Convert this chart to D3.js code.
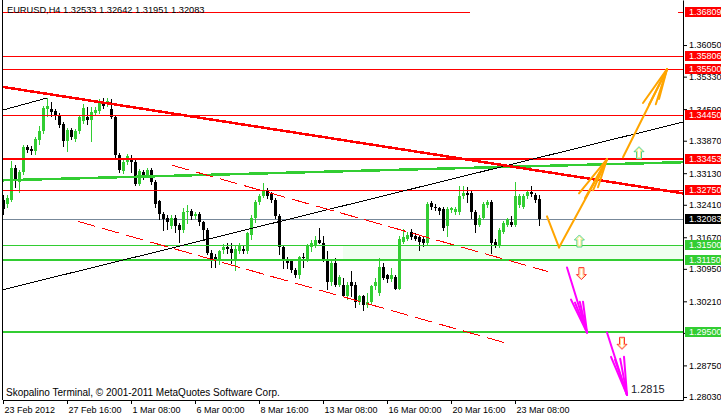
<!DOCTYPE html>
<html><head><meta charset="utf-8">
<script src="https://cdn.jsdelivr.net/npm/d3@7"></script>
<style>
html,body{margin:0;padding:0;background:#fff;}
svg{display:block;font-family:"Liberation Sans",Arial,sans-serif;}
</style></head><body>
<svg id="chart" width="721" height="417"></svg>
<script>
// ---------- DATA ----------
const symbolTitle = "EURUSD,H4  1.32533 1.32642 1.31951 1.32083";
const copyright = "Skopalino Terminal, \u00A9 2001-2011 MetaQuotes Software Corp.";
const opens = [1.3253,1.3242,1.3253,1.3324,1.3292,1.3315,1.3372,1.3368,1.3363,1.3388,
1.3409,1.3459,1.3459,1.3455,1.3445,1.3425,1.3386,1.3411,1.3391,1.3409,
1.3432,1.3441,1.3434,1.3450,1.3455,1.3475,1.3471,1.3459,1.3441,1.3354,
1.3317,1.3338,1.3347,1.3338,1.3288,1.3315,1.3308,1.3320,1.3292,1.3249,
1.3219,1.3212,1.3192,1.3212,1.3194,1.3183,1.3224,1.3226,1.3215,1.3219,
1.3201,1.3183,1.3132,1.3123,1.3112,1.3137,1.3144,1.3141,1.3116,1.3135,
1.3141,1.3135,1.3173,1.3212,1.3247,1.3260,1.3272,1.3265,1.3251,1.3215,
1.3144,1.3116,1.3112,1.3093,1.3080,1.3121,1.3116,1.3144,1.3146,1.3160,
1.3155,1.3116,1.3064,1.3109,1.3059,1.3059,1.3032,1.3064,1.3059,1.3020,
1.3032,1.3013,1.3020,1.3055,1.3041,1.3100,1.3080,1.3071,1.3077,1.3050,
1.3157,1.3164,1.3178,1.3169,1.3167,1.3164,1.3155,1.3244,1.3237,1.3233,
1.3231,1.3192,1.3228,1.3224,1.3224,1.3260,1.3267,1.3267,1.3224,1.3196,
1.3212,1.3240,1.3247,1.3157,1.3148,1.3180,1.3196,1.3201,1.3196,1.3240,
1.3237,1.3260,1.3269,1.3263,1.32533];
const highs = [1.3263,1.3263,1.3340,1.3331,1.3320,1.3377,1.3377,1.3375,1.3395,1.3420,
1.3466,1.3484,1.3475,1.3459,1.3450,1.3429,1.3416,1.3416,1.3413,1.3445,
1.3471,1.3464,1.3464,1.3464,1.3482,1.3484,1.3484,1.3482,1.3445,1.3359,
1.3345,1.3356,1.3354,1.3345,1.3322,1.3320,1.3324,1.3324,1.3297,1.3253,
1.3224,1.3217,1.3217,1.3217,1.3199,1.3233,1.3240,1.3231,1.3224,1.3224,
1.3205,1.3187,1.3137,1.3128,1.3139,1.3151,1.3155,1.3155,1.3146,1.3155,
1.3146,1.3180,1.3217,1.3253,1.3265,1.3290,1.3279,1.3269,1.3256,1.3219,
1.3148,1.3121,1.3116,1.3098,1.3125,1.3132,1.3151,1.3160,1.3169,1.3187,
1.3169,1.3135,1.3114,1.3119,1.3082,1.3075,1.3064,1.3089,1.3064,1.3036,
1.3036,1.3041,1.3059,1.3075,1.3119,1.3109,1.3084,1.3098,1.3082,1.3169,
1.3185,1.3178,1.3185,1.3176,1.3171,1.3169,1.3247,1.3249,1.3242,1.3237,
1.3235,1.3235,1.3237,1.3235,1.3283,1.3283,1.3281,1.3272,1.3228,1.3217,
1.3247,1.3253,1.3253,1.3162,1.3187,1.3203,1.3212,1.3215,1.3292,1.3265,
1.3265,1.3274,1.3283,1.3267,1.32642];
const lows = [1.3221,1.3237,1.3249,1.3281,1.3269,1.3311,1.3361,1.3356,1.3356,1.3379,
1.3404,1.3443,1.3443,1.3436,1.3418,1.3375,1.3363,1.3391,1.3386,1.3404,
1.3427,1.3425,1.3386,1.3445,1.3450,1.3461,1.3466,1.3439,1.3349,1.3315,
1.3313,1.3333,1.3315,1.3285,1.3285,1.3299,1.3304,1.3288,1.3237,1.3208,
1.3183,1.3185,1.3187,1.3180,1.3157,1.3178,1.3199,1.3208,1.3210,1.3196,
1.3162,1.3128,1.3100,1.3100,1.3107,1.3132,1.3132,1.3109,1.3093,1.3132,
1.3130,1.3130,1.3162,1.3201,1.3242,1.3258,1.3256,1.3247,1.3210,1.3128,
1.3096,1.3096,1.3087,1.3077,1.3075,1.3100,1.3112,1.3135,1.3144,1.3153,
1.3112,1.3048,1.3059,1.3055,1.3055,1.3032,1.3027,1.3032,1.3009,1.3016,
1.3002,1.3009,1.3016,1.3050,1.3036,1.3071,1.3066,1.3068,1.3048,1.3048,
1.3153,1.3160,1.3162,1.3160,1.3139,1.3148,1.3151,1.3231,1.3228,1.3221,
1.3183,1.3169,1.3224,1.3219,1.3219,1.3256,1.3247,1.3210,1.3178,1.3192,
1.3208,1.3235,1.3132,1.3144,1.3144,1.3176,1.3192,1.3192,1.3192,1.3235,
1.3233,1.3256,1.3260,1.3247,1.31951];
const closes = [1.3231,1.3256,1.3324,1.3295,1.3315,1.3372,1.3365,1.3363,1.3391,1.3409,
1.3461,1.3466,1.3452,1.3443,1.3423,1.3386,1.3411,1.3395,1.3409,1.3441,
1.3461,1.3434,1.3452,1.3457,1.3475,1.3466,1.3477,1.3441,1.3354,1.3320,
1.3338,1.3352,1.3338,1.3288,1.3317,1.3306,1.3320,1.3292,1.3242,1.3219,
1.3208,1.3201,1.3212,1.3192,1.3183,1.3224,1.3226,1.3215,1.3219,1.3201,
1.3183,1.3132,1.3112,1.3112,1.3135,1.3144,1.3141,1.3130,1.3141,1.3146,
1.3135,1.3176,1.3212,1.3247,1.3260,1.3274,1.3260,1.3251,1.3215,1.3144,
1.3116,1.3109,1.3093,1.3080,1.3121,1.3119,1.3146,1.3155,1.3160,1.3155,
1.3116,1.3064,1.3109,1.3059,1.3077,1.3034,1.3059,1.3055,1.3020,1.3032,
1.3013,1.3020,1.3055,1.3066,1.3100,1.3075,1.3071,1.3080,1.3050,1.3164,
1.3167,1.3173,1.3167,1.3164,1.3157,1.3153,1.3242,1.3235,1.3233,1.3226,
1.3187,1.3231,1.3233,1.3231,1.3260,1.3267,1.3263,1.3224,1.3196,1.3212,
1.3242,1.3247,1.3155,1.3148,1.3183,1.3199,1.3208,1.3196,1.3260,1.3260,
1.3260,1.3269,1.3265,1.3251,1.32083];

const timeLabels = ["23 Feb 2012","27 Feb 16:00","1 Mar 08:00","6 Mar 00:00","8 Mar 16:00","13 Mar 08:00","16 Mar 00:00","20 Mar 16:00","23 Mar 08:00"];
const timeLabelBars = [0,16,32,48,64,80,96,112,128];
const priceTicks = [1.28030,1.28750,1.29490,1.30210,1.30950,1.31670,1.32410,1.33130,1.33870,1.34590,1.35330,1.36050];

const redLevels = [1.36809,1.35806,1.35500,1.34450,1.33453,1.32750];
const greenLevels = [1.31500,1.31150,1.29500];
const lastPrice = 1.32083;
const zoneStartBar = 85;

// trend lines: [bar1, price1, bar2, price2]
const redTrend = [0,1.35095,170,1.32671];
const blackTrend = [0,1.30476,170,1.34294];
const blackShort = [0,1.3457,10.9,1.3484];
const greenTrend = [0,1.32968,170,1.33380];
const channelUpper = [42.25,1.33311,136.25,1.30888];
const channelLower = [18.75,1.32031,125.5,1.29265];

// forecast path & arrows: [bar, price]
const orangeLeg = [[136,1.32145],[139,1.31437]];
const orangeArrow1 = {shaft:[[139,1.31437],[151,1.33449]], barbs:[[144,1.32671],[145.5,1.32560],[147.5,1.32740],[148.75,1.32808]]};
const orangeArrow2 = {shaft:[[155,1.33494],[166,1.35500]], barbs:[[160,1.34729],[161.5,1.34690],[163.2,1.34700],[164,1.34820]]};
const magentaArrow1 = {shaft:[[141,1.30979],[146,1.29500]], barbs:[[142,1.30248],[143,1.30180],[144.2,1.30200],[145,1.30202]]};
const magentaArrow2 = {shaft:[[151,1.29500],[156,1.28076]], barbs:[[152,1.28945],[153,1.28880],[154.3,1.28900],[155.25,1.28945]]};
const targetLabel = "1.2815";
const upSignals = [[144.1,1.31585],[159,1.33597]];
const downSignals = [[144.6,1.30842],[154.75,1.29253]];

// ---------- DRAW ----------
const svg = d3.select("#chart");
svg.append("rect").attr("width",721).attr("height",417).attr("fill","#fff");
const x = d3.scaleLinear().domain([0,170]).range([3,683]);
const y = d3.scaleLinear().domain([1.279614,1.370764]).range([400,0]);
const px = v => Math.round(x(v));
const py = v => Math.round(y(v));
const LIME = "#32CD32", RED = "#FF0000", ORANGE = "#FFA500", MAG = "#FF00FF";

// zone fill
svg.append("rect")
  .attr("x", px(zoneStartBar)).attr("y", py(greenLevels[0]))
  .attr("width", px(170)-px(zoneStartBar)).attr("height", py(greenLevels[1])-py(greenLevels[0]))
  .attr("fill","#F0FFF0");

// last price line
svg.append("line").attr("x1",3).attr("x2",683)
  .attr("y1",py(lastPrice)+0.5).attr("y2",py(lastPrice)+0.5)
  .attr("stroke","#778899").attr("stroke-width",1);

// candles
const bars = d3.range(opens.length).map(i=>({i,o:opens[i],h:highs[i],l:lows[i],c:closes[i]}));
const cg = svg.append("g").attr("shape-rendering","crispEdges");
const col = d => d.c >= d.o ? LIME : "#000";
cg.selectAll("line").data(bars).join("line")
  .attr("x1",d=>px(d.i)+0.5).attr("x2",d=>px(d.i)+0.5)
  .attr("y1",d=>py(d.h)).attr("y2",d=>py(d.l)+1)
  .attr("stroke",col);
cg.selectAll("rect").data(bars).join("rect")
  .attr("x",d=>px(d.i)-1).attr("width",3)
  .attr("y",d=>py(Math.max(d.o,d.c)))
  .attr("height",d=>Math.max(1,py(Math.min(d.o,d.c))-py(Math.max(d.o,d.c))))
  .attr("fill",col);

// horizontal levels
const lg = svg.append("g").attr("shape-rendering","crispEdges");
redLevels.forEach((v,k)=>{
  const w = k===4 ? 2 : 1;
  const yy = py(v) + (w===1 ? 0.5 : 0);
  lg.append("line").attr("x1",3).attr("x2", k===0 ? x(116.75) : 683)
    .attr("y1",yy).attr("y2",yy).attr("stroke",RED).attr("stroke-width",w);
});
greenLevels.forEach((v,k)=>{
  const w = k===0 ? 1 : 2;
  const yy = py(v) + (w===1 ? 0.5 : 0);
  lg.append("line").attr("x1",3).attr("x2",683)
    .attr("y1",yy).attr("y2",yy).attr("stroke",LIME).attr("stroke-width",w);
});
lg.append("line").attr("x1",678).attr("x2",683).attr("y1",py(redLevels[0])+0.5).attr("y2",py(redLevels[0])+0.5).attr("stroke",RED);

// trend lines
const tg = svg.append("g").attr("shape-rendering","crispEdges");
function seg(a, stroke, w, dash){
  const l = tg.append("line").attr("x1",x(a[0])).attr("y1",y(a[1])).attr("x2",x(a[2])).attr("y2",y(a[3]))
    .attr("stroke",stroke).attr("stroke-width",w);
  if(dash) l.attr("stroke-dasharray",dash);
}
seg(greenTrend, LIME, 2.5);
seg(blackTrend, "#000", 1);
seg(blackShort, "#000", 1);
seg(redTrend, RED, 2.5);
seg(channelUpper, RED, 1, "18,7");
seg(channelLower, RED, 1, "18,7");

// forecast arrows
const ag = svg.append("g").attr("stroke-linecap","round");
function line2(p, q, c){ ag.append("line").attr("x1",x(p[0])).attr("y1",y(p[1])).attr("x2",x(q[0])).attr("y2",y(q[1])).attr("stroke",c).attr("stroke-width",2); }
line2(orangeLeg[0], orangeLeg[1], ORANGE);
[orangeArrow1, orangeArrow2].forEach(a=>{ line2(a.shaft[0],a.shaft[1],ORANGE); a.barbs.forEach(b=>line2(a.shaft[1],b,ORANGE)); });
[magentaArrow1, magentaArrow2].forEach(a=>{ line2(a.shaft[0],a.shaft[1],MAG); a.barbs.forEach(b=>line2(a.shaft[1],b,MAG)); });

// signal icons
const upPath = "M0,-6 L5,-1 L2.5,-1 L2.5,6 L-2.5,6 L-2.5,-1 L-5,-1 Z";
const upInner = "M0,-4.5 L3.2,-1.8 L1.5,-1.8 L1.5,5 L-1.5,5 L-1.5,-1.8 L-3.2,-1.8 Z";
upSignals.forEach(s=>{
  const g = svg.append("g").attr("transform",`translate(${x(s[0])},${y(s[1])})`);
  g.append("path").attr("d",upPath).attr("fill","#fff").attr("stroke","#4cd28a").attr("stroke-width",1);
  g.append("path").attr("d",upInner).attr("fill","none").attr("stroke","#f4e36a").attr("stroke-width",0.8);
});
downSignals.forEach(s=>{
  const g = svg.append("g").attr("transform",`translate(${x(s[0])},${y(s[1])}) scale(1,-1)`);
  g.append("path").attr("d",upPath).attr("fill","#fff").attr("stroke","#ff3030").attr("stroke-width",1);
  g.append("path").attr("d",upInner).attr("fill","none").attr("stroke","#ffd070").attr("stroke-width",0.8);
});

// target label
svg.append("text").attr("x",x(magentaArrow2.shaft[1][0])+4).attr("y",y(magentaArrow2.shaft[1][1])-2)
  .attr("font-size",11).attr("fill","#1a1a2a").text(targetLabel);

// left border
svg.append("line").attr("x1",2.5).attr("x2",2.5).attr("y1",0).attr("y2",400).attr("stroke","#000").attr("shape-rendering","crispEdges");

// axes
const ay = d3.axisRight(y).tickValues(priceTicks).tickSize(4).tickSizeOuter(0).tickFormat(d3.format(".5f"));
const gy = svg.append("g").attr("transform","translate(683,0)").call(ay);
gy.attr("font-family",null).attr("font-size",null);
gy.select(".domain").attr("stroke","#000");
gy.selectAll("text").attr("x",6).attr("font-size",9).attr("fill","#000");

const ax = d3.axisBottom(x).tickValues(timeLabelBars).tickSize(4).tickSizeOuter(0).tickFormat((d,i)=>timeLabels[i]);
const gx = svg.append("g").attr("transform","translate(0,400)").call(ax);
gx.attr("font-family",null).attr("font-size",null);
gx.selectAll("text").attr("text-anchor","start").attr("x",1).attr("y",13).attr("dy",0).attr("font-size",9).attr("fill","#000");

// price boxes on axis
function box(v, bg){
  const yy = py(v);
  svg.append("rect").attr("x",685).attr("y",yy-5).attr("width",40).attr("height",10).attr("fill",bg);
  svg.append("text").attr("x",689).attr("y",yy).attr("dy","0.35em").attr("font-size",9).attr("fill","#fff").text(v.toFixed(5));
}
redLevels.forEach(v=>box(v,RED));
box(lastPrice,"#000");
greenLevels.forEach(v=>box(v,LIME));

// title and copyright
svg.append("text").attr("x",7).attr("y",13).attr("font-size",9.25).attr("fill","#000").text(symbolTitle);
svg.append("text").attr("x",6).attr("y",395.5).attr("font-size",10).attr("fill","#000").text(copyright);
</script>
</body></html>
